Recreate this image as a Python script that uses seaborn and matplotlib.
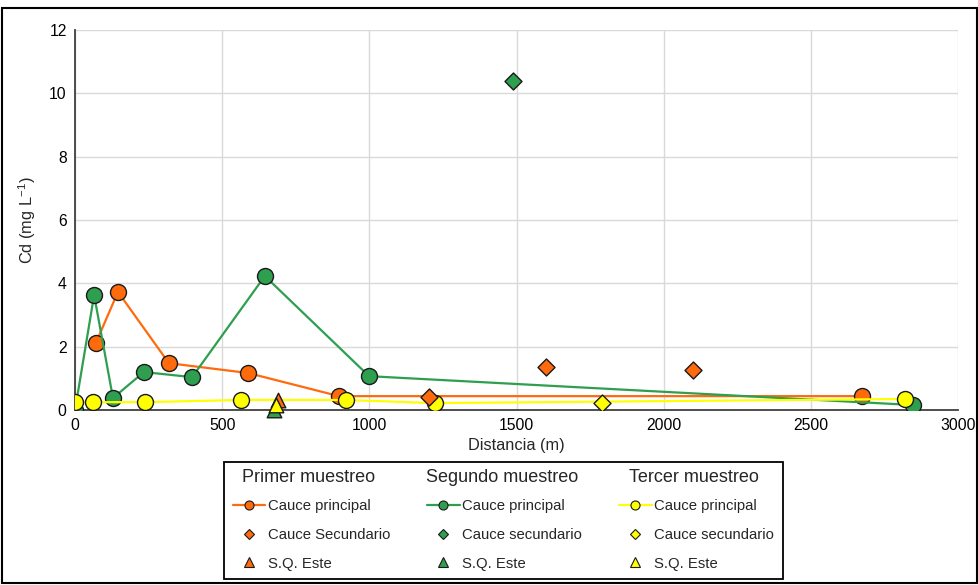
import matplotlib
matplotlib.use("Agg")
import matplotlib.pyplot as plt
from matplotlib.lines import Line2D
from matplotlib.patches import Rectangle
import seaborn as sns
import pandas as pd

# Primer muestreo
p1_x = [71, 146, 319, 588, 897, 2674]
p1_y = [2.12, 3.73, 1.48, 1.17, 0.44, 0.44]
s1_x = [1203, 1600, 2100]
s1_y = [0.41, 1.36, 1.26]
e1_x = [690]
e1_y = [0.32]

# Segundo muestreo
p2_x = [0, 65, 129, 234, 398, 645, 999, 2847]
p2_y = [0.0, 3.63, 0.38, 1.20, 1.04, 4.23, 1.07, 0.16]
s2_x = [1488]
s2_y = [10.39]
e2_x = [676]
e2_y = [0.0]

# Tercer muestreo
p3_x = [0, 61, 238, 564, 921, 1223, 2820]
p3_y = [0.25, 0.25, 0.25, 0.32, 0.32, 0.22, 0.35]
s3_x = [1790]
s3_y = [0.22]
e3_x = [683]
e3_y = [0.16]

titles = ["Primer muestreo", "Segundo muestreo", "Tercer muestreo"]
sec_labels = ["Cauce Secundario", "Cauce secundario", "Cauce secundario"]

ORANGE = "#FF6A0D"
GREEN = "#2E9E4F"
YELLOW = "#FFFF00"

sns.set_style("white")
plt.rcParams["font.family"] = ["Liberation Sans", "DejaVu Sans"]
plt.rcParams["mathtext.default"] = "regular"

fig = plt.figure(figsize=(9.79, 5.85), dpi=100)
ax = fig.add_axes([0.0766, 0.299, 0.902, 0.650])

series = [
    (p1_x, p1_y, s1_x, s1_y, e1_x, e1_y, ORANGE),
    (p2_x, p2_y, s2_x, s2_y, e2_x, e2_y, GREEN),
    (p3_x, p3_y, s3_x, s3_y, e3_x, e3_y, YELLOW),
]

for px, py, sx, sy, ex, ey, color in series:
    df = pd.DataFrame({"x": px, "y": py})
    sns.lineplot(data=df, x="x", y="y", sort=False, ax=ax, color=color,
                 linewidth=1.6, marker="o", markersize=11.5,
                 markerfacecolor=color, markeredgecolor="#1a1a1a",
                 markeredgewidth=1.0, zorder=3)

for px, py, sx, sy, ex, ey, color in series:
    sns.scatterplot(x=sx, y=sy, ax=ax, color=color, marker="D", s=75,
                    edgecolor="#1a1a1a", linewidth=1.0, zorder=4)

for px, py, sx, sy, ex, ey, color in series:
    sns.scatterplot(x=ex, y=ey, ax=ax, color=color, marker="^", s=110,
                    edgecolor="#1a1a1a", linewidth=1.0, zorder=4, clip_on=False)

ax.set_xlim(0, 3000)
ax.set_ylim(0, 12)
ax.set_xticks(range(0, 3001, 500))
ax.set_yticks(range(0, 13, 2))
ax.grid(True, color="#d9d9d9", linewidth=1.0)
ax.set_axisbelow(True)
for side in ["top", "right"]:
    ax.spines[side].set_visible(False)
for side in ["left", "bottom"]:
    ax.spines[side].set_color("#404040")
    ax.spines[side].set_linewidth(1.3)
ax.tick_params(axis="both", labelsize=11.3, colors="#404040", length=3,
               labelcolor="black", pad=3)
ax.set_xlabel("Distancia (m)", fontsize=11.8, labelpad=3)
ax.set_ylabel("Cd (mg L$^{-1}$)", fontsize=11.8, labelpad=8)

# legend: three columns, one per sampling; the first row is left blank
# and the column titles are centred over it afterwards
handles = []
labels = []
for sec, (_, _, _, _, _, _, color) in zip(sec_labels, series):
    handles.append(Line2D([], [], linestyle="none", marker=None))
    labels.append(" ")
    handles.append(Line2D([], [], color=color, linewidth=1.6, marker="o",
                          markersize=6.5, markerfacecolor=color,
                          markeredgecolor="#1a1a1a", markeredgewidth=0.8))
    labels.append("Cauce principal")
    handles.append(Line2D([], [], linestyle="none", marker="D", markersize=4.8,
                          markerfacecolor=color, markeredgecolor="#1a1a1a",
                          markeredgewidth=0.8))
    labels.append(sec)
    handles.append(Line2D([], [], linestyle="none", marker="^", markersize=6.5,
                          markerfacecolor=color, markeredgecolor="#1a1a1a",
                          markeredgewidth=0.8))
    labels.append("S.Q. Este")

leg = fig.legend(handles, labels, ncol=3, loc="upper center",
                 bbox_to_anchor=(0.514, 0.2103), fontsize=10.7, frameon=True,
                 fancybox=False, edgecolor="black", framealpha=1.0,
                 handlelength=2.2, handletextpad=0.15, columnspacing=2.5,
                 labelspacing=0.98, borderpad=0.6, borderaxespad=0)
leg.get_frame().set_linewidth(1.3)
leg.set_zorder(5)

fig.canvas.draw()
renderer = fig.canvas.get_renderer()
inv = fig.transFigure.inverted()
texts = leg.get_texts()
for col in range(3):
    col_texts = texts[col * 4:(col + 1) * 4]
    col_lines = leg.legend_handles[col * 4 + 1:(col + 1) * 4]
    x0 = min(h.get_window_extent(renderer).x0 for h in col_lines)
    x1 = max(t.get_window_extent(renderer).x1 for t in col_texts[1:])
    tb = col_texts[0].get_window_extent(renderer)
    cx, cy = inv.transform(((x0 + x1) / 2, (tb.y0 + tb.y1) / 2))
    fig.text(cx, cy, titles[col], ha="center", va="center", fontsize=13,
             zorder=10)

fig.add_artist(Rectangle((0.002, 0.003), 0.996, 0.984, transform=fig.transFigure,
                         fill=False, edgecolor="black", linewidth=1.5))

fig.savefig("out.png", dpi=100)
